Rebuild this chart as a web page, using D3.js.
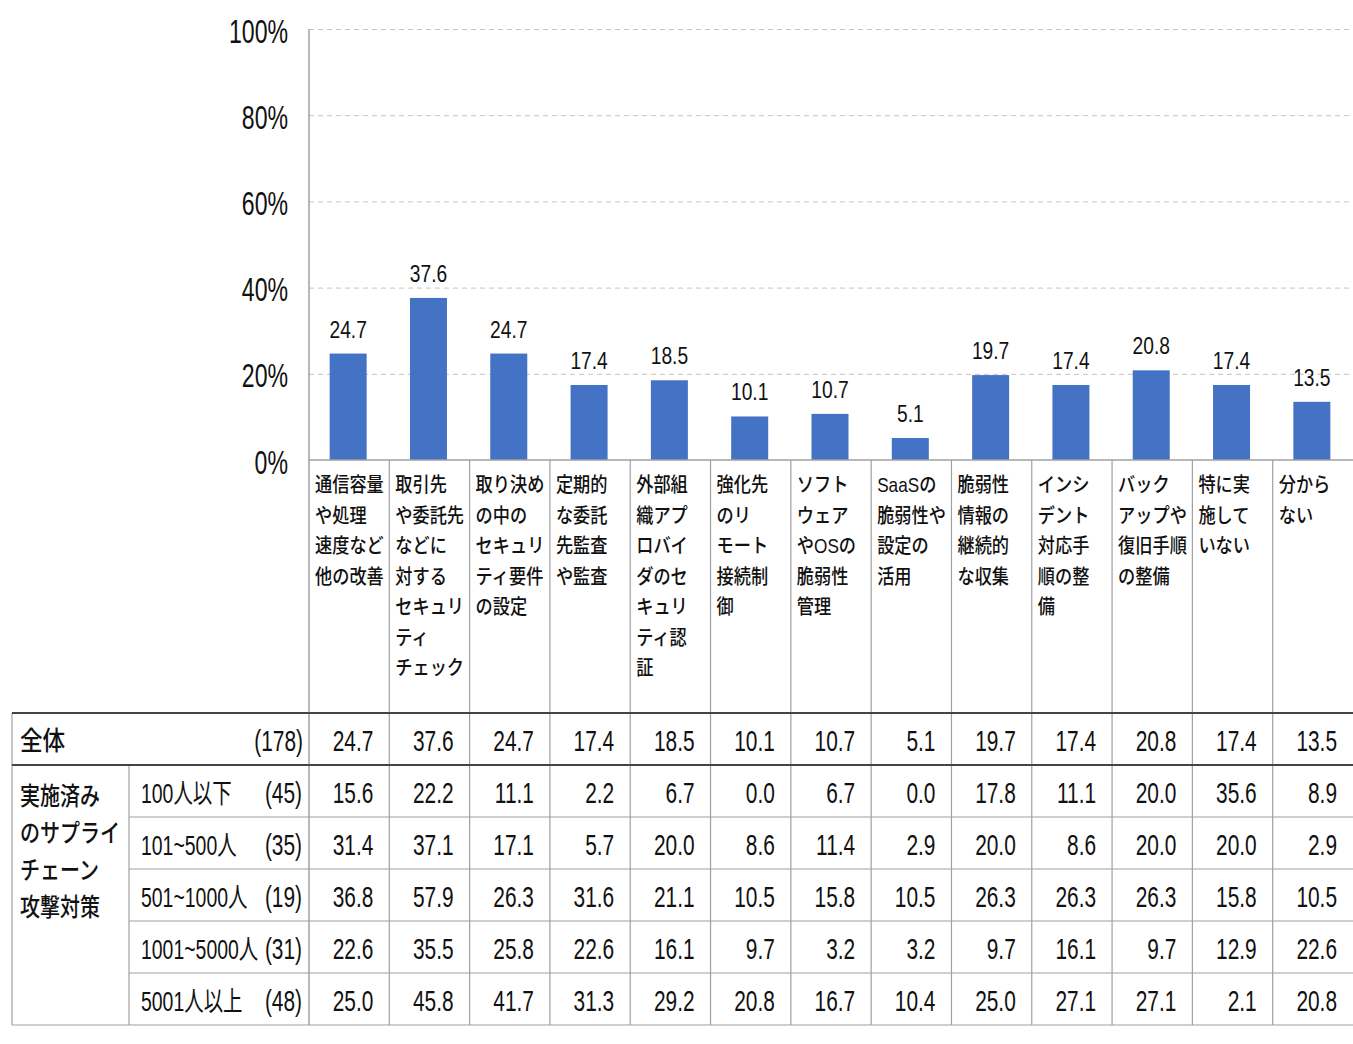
<!DOCTYPE html>
<html>
<head>
<meta charset="utf-8">
<script src="https://cdn.jsdelivr.net/npm/d3@7"></script>
<style>
  body { margin: 0; background: #fff; }
  svg { display: block; }
  text { font-family: "Liberation Sans", "Noto Sans CJK JP", sans-serif; fill: #111; }
</style>
</head>
<body>
<svg id="chart" width="1353" height="1044"></svg>
<script>
// categories (header labels, already wrapped as in the original)
const categories = [
  ['通信容量', 'や処理', '速度など', '他の改善'],
  ['取引先', 'や委託先', 'などに', '対する', 'セキュリ', 'ティ', 'チェック'],
  ['取り決め', 'の中の', 'セキュリ', 'ティ要件', 'の設定'],
  ['定期的', 'な委託', '先監査', 'や監査'],
  ['外部組', '織アプ', 'ロバイ', 'ダのセ', 'キュリ', 'ティ認', '証'],
  ['強化先', 'のリ', 'モート', '接続制', '御'],
  ['ソフト', 'ウェア', 'やOSの', '脆弱性', '管理'],
  ['SaaSの', '脆弱性や', '設定の', '活用'],
  ['脆弱性', '情報の', '継続的', 'な収集'],
  ['インシ', 'デント', '対応手', '順の整', '備'],
  ['バック', 'アップや', '復旧手順', 'の整備'],
  ['特に実', '施して', 'いない'],
  ['分から', 'ない']
];

const yTicks = [0, 20, 40, 60, 80, 100];

// overall (bars + first table row)
const totalLabel = '全体';
const totalN = '(178)';
const totalValues = [24.7, 37.6, 24.7, 17.4, 18.5, 10.1, 10.7, 5.1, 19.7, 17.4, 20.8, 17.4, 13.5];

// breakdown by company size
const groupLabel = ['実施済み', 'のサプライ', 'チェーン', '攻撃対策'];
const sizeLabels = ['100人以下', '101~500人', '501~1000人', '1001~5000人', '5001人以上'];
const sizeN = ['(45)', '(35)', '(19)', '(31)', '(48)'];
const size100 = [15.6, 22.2, 11.1, 2.2, 6.7, 0.0, 6.7, 0.0, 17.8, 11.1, 20.0, 35.6, 8.9];
const size500 = [31.4, 37.1, 17.1, 5.7, 20.0, 8.6, 11.4, 2.9, 20.0, 8.6, 20.0, 20.0, 2.9];
const size1000 = [36.8, 57.9, 26.3, 31.6, 21.1, 10.5, 15.8, 10.5, 26.3, 26.3, 26.3, 15.8, 10.5];
const size5000 = [22.6, 35.5, 25.8, 22.6, 16.1, 9.7, 3.2, 3.2, 9.7, 16.1, 9.7, 12.9, 22.6];
const sizeOver = [25.0, 45.8, 41.7, 31.3, 29.2, 20.8, 16.7, 10.4, 25.0, 27.1, 27.1, 2.1, 20.8];
const sizeRows = [size100, size500, size1000, size5000, sizeOver];

const svg = d3.select('#chart');
const left = 309, right = 1353;
const plotTop = 29, plotBottom = 460;
const headerBottom = 713;
const rowH = 52;
const tableLeft = 12, subLeft = 129;
const lineColor = '#a0a0a0';

const ids = categories.map((c, i) => i);
const x = d3.scaleBand().domain(ids).range([left, right]);
const y = d3.scaleLinear().domain([0, 100]).range([plotBottom, plotTop]);
const barW = 37;

// squeezed text helper (the source uses a condensed face)
function label(g, px, py, s, size, sx, anchor) {
  return g.append('text')
    .attr('transform', `translate(${px},${py}) scale(${sx},1)`)
    .attr('text-anchor', anchor || 'start')
    .style('font-size', size + 'px')
    .text(s);
}

// gridlines
svg.append('g')
  .attr('transform', `translate(${left},0)`)
  .call(d3.axisLeft(y).tickValues(yTicks.slice(1)).tickSize(-(right - left)).tickFormat(''))
  .call(g => g.select('.domain').remove())
  .call(g => g.selectAll('line').attr('stroke', '#c4c4c4').attr('stroke-dasharray', '5,4'));

// y tick labels
const yAxis = svg.append('g')
  .attr('transform', 'translate(288,0)')
  .call(d3.axisLeft(y).tickValues(yTicks).tickSize(0).tickPadding(0).tickFormat(d => d + '%'));
yAxis.select('.domain').remove();
yAxis.selectAll('text')
  .attr('x', 0).attr('dy', null).attr('y', 13)
  .attr('fill', '#111')
  .style('font-family', '"Liberation Sans", sans-serif')
  .style('font-size', '33px')
  .attr('transform', 'scale(0.7,1)');

// bars
svg.append('g').selectAll('rect')
  .data(totalValues)
  .join('rect')
  .attr('x', (d, i) => x(i) + (x.bandwidth() - barW) / 2 - 1)
  .attr('width', barW)
  .attr('y', d => y(d))
  .attr('height', d => y(0) - y(d))
  .attr('fill', '#4472c4');

// bar value labels
const vl = svg.append('g');
totalValues.forEach((d, i) => {
  label(vl, x(i) + x.bandwidth() / 2 - 1, y(d) - 16, d.toFixed(1), 24, 0.8, 'middle');
});

// axis lines
svg.append('line')
  .attr('x1', left).attr('x2', left).attr('y1', plotTop).attr('y2', plotBottom + 565)
  .attr('stroke', lineColor).attr('stroke-width', 1.5);
svg.append('line')
  .attr('x1', left).attr('x2', right).attr('y1', plotBottom).attr('y2', plotBottom)
  .attr('stroke', lineColor).attr('stroke-width', 1.5);

// table grid
const tableBottom = headerBottom + rowH * 6;
const grid = svg.append('g');
ids.forEach(i => {
  if (i === 0) return;
  grid.append('line')
    .attr('x1', x(i)).attr('x2', x(i)).attr('y1', plotBottom).attr('y2', tableBottom)
    .attr('stroke', lineColor).attr('stroke-width', 1.2);
});
grid.append('line')
  .attr('x1', tableLeft).attr('x2', tableLeft).attr('y1', headerBottom).attr('y2', tableBottom)
  .attr('stroke', lineColor).attr('stroke-width', 1.2);
grid.append('line')
  .attr('x1', subLeft).attr('x2', subLeft).attr('y1', headerBottom + rowH).attr('y2', tableBottom)
  .attr('stroke', lineColor).attr('stroke-width', 1.2);
[headerBottom, headerBottom + rowH].forEach(yy => {
  grid.append('line')
    .attr('x1', tableLeft).attr('x2', right).attr('y1', yy).attr('y2', yy)
    .attr('stroke', '#444').attr('stroke-width', 2);
});
d3.range(2, 6).forEach(r => {
  grid.append('line')
    .attr('x1', subLeft).attr('x2', right)
    .attr('y1', headerBottom + rowH * r).attr('y2', headerBottom + rowH * r)
    .attr('stroke', lineColor).attr('stroke-width', 1.2);
});
grid.append('line')
  .attr('x1', tableLeft).attr('x2', right).attr('y1', tableBottom).attr('y2', tableBottom)
  .attr('stroke', lineColor).attr('stroke-width', 1.2);

// header labels
const hd = svg.append('g').style('font-weight', 500);
categories.forEach((lines, i) => {
  lines.forEach((s, k) => {
    label(hd, x(i) + 6, 492 + k * 30.5, s, 20, 0.86);
  });
});

// table body
const tb = svg.append('g');
const cellBase = r => headerBottom + rowH * r + 38;
label(tb, 20, cellBase(0) - 1, totalLabel, 26, 0.87).style('font-weight', 500);
label(tb, 303, cellBase(0), totalN, 29, 0.72, 'end');
totalValues.forEach((d, i) => {
  label(tb, x(i) + x.bandwidth() - 16, cellBase(0), d.toFixed(1), 29, 0.72, 'end');
});

groupLabel.forEach((s, k) => {
  label(tb, 20, 805 + k * 37, s, 25, 0.8).style('font-weight', 500);
});

sizeRows.forEach((row, r) => {
  label(tb, 141, cellBase(r + 1), sizeLabels[r], 27, 0.72);
  label(tb, 302, cellBase(r + 1), sizeN[r], 29, 0.72, 'end');
  row.forEach((d, i) => {
    label(tb, x(i) + x.bandwidth() - 16, cellBase(r + 1), d.toFixed(1), 29, 0.72, 'end');
  });
});
</script>
</body>
</html>
